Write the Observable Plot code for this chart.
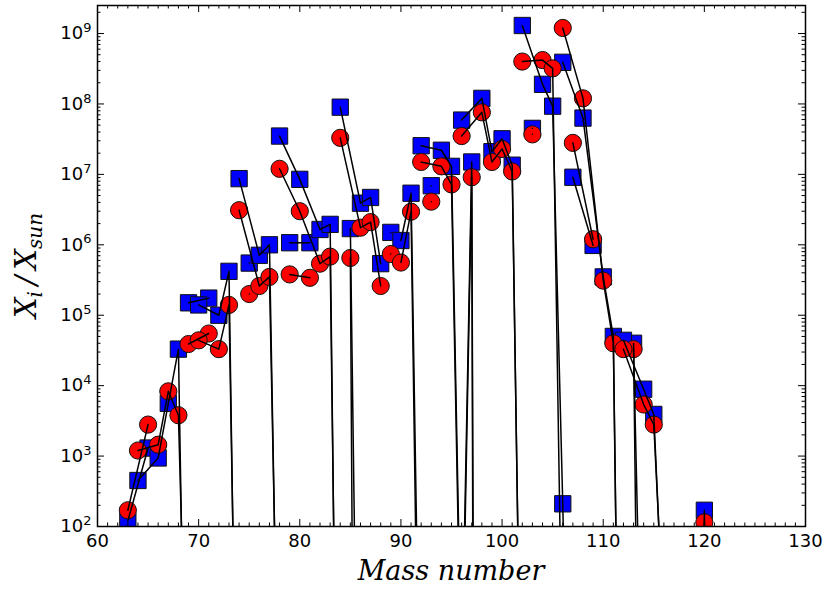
<!DOCTYPE html>
<html>
<head>
<meta charset="utf-8">
<script src="https://cdn.jsdelivr.net/npm/d3@7"></script>
<script src="https://cdn.jsdelivr.net/npm/@observablehq/plot@0.6"></script>
<style>
  html, body { margin: 0; padding: 0; background: #fff; }
  #chart svg { display: block; }
</style>
</head>
<body>
<div id="chart"></div>
<script>
// Isotopes grouped by element (each element is one connected line)
const element = [
  "Cu","Cu",
  "Zn","Zn","Zn","Zn","Zn",
  "Ga","Ga",
  "Ge","Ge","Ge","Ge","Ge",
  "As",
  "Se","Se","Se","Se","Se","Se",
  "Br","Br",
  "Kr","Kr","Kr","Kr","Kr","Kr",
  "Rb","Rb",
  "Sr","Sr","Sr","Sr",
  "Y",
  "Zr","Zr","Zr","Zr","Zr",
  "Nb",
  "Mo","Mo","Mo","Mo","Mo","Mo","Mo",
  "Ru","Ru","Ru","Ru","Ru","Ru","Ru",
  "Rh",
  "Pd","Pd","Pd","Pd","Pd","Pd",
  "Ag","Ag",
  "Cd","Cd","Cd","Cd","Cd","Cd","Cd","Cd",
  "In","In",
  "Sn","Sn","Sn","Sn","Sn","Sn","Sn","Sn","Sn","Sn"
];
const massNumber = [
  63,65,
  64,66,67,68,70,
  69,71,
  70,72,73,74,76,
  75,
  74,76,77,78,80,82,
  79,81,
  78,80,82,83,84,86,
  85,87,
  84,86,87,88,
  89,
  90,91,92,94,96,
  93,
  92,94,95,96,97,98,100,
  96,98,99,100,101,102,104,
  103,
  102,104,105,106,108,110,
  107,109,
  106,108,110,111,112,113,114,116,
  113,115,
  112,114,115,116,117,118,119,120,122,124
];
// X_i / X_sun, blue squares
const blueRatio = [
  1.2e2, 1.3e3,
  4.5e2, 9.4e2, 5.6e3, 3.3e4, 5e-13,
  1.5e5, 1.75e5,
  1.4e5, 1.0e5, 4.2e5, 1.3e-4, 1e-6,
  5.5e5,
  8.7e6, 7.1e5, 1.0e6, 1e-2, 1e-4, 1e-4,
  1.07e6, 1.07e6,
  3.5e7, 8.5e6, 1.65e6, 1.95e6, 1e-6, 1e-8,
  1.7e6, 1e-15,
  9.0e7, 3.9e6, 4.7e6, 5.4e5,
  1.5e6,
  1.15e6, 5.4e6, 1e-2, 1e-4, 1e-4,
  6.9e6,
  2.55e7, 2.2e7, 1.3e7, 0.65, 1.5e7, 1e-45, 1e-45,
  5.9e7, 1.2e8, 2.1e7, 3.2e7, 1.35e7, 6e-3, 1e-4,
  4.5e7,
  1.3e9, 1.9e8, 9.3e7, 2.1e2, 1e-11, 1e-11,
  9.1e6, 9.8e5,
  3.9e8, 6.3e7, 3.5e5, 5.0e4, 8e-7, 1e-8, 1e-8, 1e-8,
  4.0e4, 1e-20,
  4.4e4, 8.9e3, 3.9e3, 2.5, 1e-20, 1e-20, 1e-20, 1.7e2, 1e-20, 1e-20
];
// X_i / X_sun, red circles
const redRatio = [
  1.7e2, 2.8e3,
  1.2e3, 1.45e3, 8.3e3, 3.8e3, 1.3e-7,
  3.9e4, 5.5e4,
  4.4e4, 3.3e4, 1.4e5, 8e-4, 1e-6,
  2.0e5,
  3.1e6, 2.6e5, 3.5e5, 2.8e-2, 1e-4, 1e-4,
  3.8e5, 3.4e5,
  1.2e7, 3.0e6, 5.4e5, 6.8e5, 8e-6, 1e-8,
  6.5e5, 1e-40,
  3.3e7, 1.75e6, 2.1e6, 2.6e5,
  7.4e5,
  5.6e5, 2.95e6, 3e-4, 1e-6, 1e-6,
  4.1e6,
  1.5e7, 1.3e7, 7.2e6, 0.25, 9.1e6, 1e-30, 1e-30,
  3.5e7, 7.6e7, 1.5e7, 2.3e7, 1.1e7, 8e-3, 1e-4,
  3.7e7,
  4.0e8, 4.2e8, 3.2e8, 0.3, 1e-10, 1e-10,
  2.8e7, 1.2e6,
  1.2e9, 1.2e8, 3.1e5, 4.0e4, 1.6e-6, 1e-8, 1e-8, 1e-8,
  3.3e4, 1e-8,
  3.3e4, 5.4e3, 2.8e3, 3.5, 1e-20, 1e-20, 1e-20, 1.15e2, 1e-20, 1e-20
];
const xTicks = [60, 70, 80, 90, 100, 110, 120, 130];
const yTicks = [1e2, 1e3, 1e4, 1e5, 1e6, 1e7, 1e8, 1e9];

const rows = massNumber.map((a, i) => ({el: element[i], A: a, blue: blueRatio[i], red: redRatio[i]}));

const W = 826, H = 589, mL = 97, mR = 21, mT = 5, mB = 63;
const pw = W - mL - mR, ph = H - mT - mB;
const majorLen = 7, minorLen = 3.5;
const xMinor = d3.range(60, 131, 1).filter(v => v % 10 !== 0);
const yMinor = [];
for (let e = 2; e <= 9; e++) for (let k = 2; k <= 9; k++) { const v = k * 10 ** e; if (v <= 2.5e9) yMinor.push(v); }

const chart = Plot.plot({
  width: W, height: H,
  marginLeft: mL, marginRight: mR, marginTop: mT, marginBottom: mB,
  style: {fontFamily: "DejaVu Sans", fontSize: "18px", color: "black", background: "white", overflow: "visible"},
  x: {domain: [60, 130]},
  y: {type: "log", domain: [1e2, 2.5e9]},
  marks: [
    Plot.dot(rows, {x: "A", y: "blue", symbol: "square", r: 9.2, fill: "#0000ff", stroke: "#111", strokeWidth: 1, clip: true}),
    Plot.dot(rows, {x: "A", y: "red", symbol: "circle", r: 8.6, fill: "#ff0000", stroke: "#111", strokeWidth: 1, clip: true}),
    Plot.line(rows, {x: "A", y: "blue", z: "el", stroke: "black", strokeWidth: 1.5, clip: true}),
    Plot.line(rows, {x: "A", y: "red", z: "el", stroke: "black", strokeWidth: 1.5, clip: true}),
    // inward ticks on all four sides
    Plot.tickY(yTicks, {y: d => d, insetRight: pw - majorLen, stroke: "black", strokeWidth: 1}),
    Plot.tickY(yTicks, {y: d => d, insetLeft: pw - majorLen, stroke: "black", strokeWidth: 1}),
    Plot.tickY(yMinor, {y: d => d, insetRight: pw - minorLen, stroke: "black", strokeWidth: 1}),
    Plot.tickY(yMinor, {y: d => d, insetLeft: pw - minorLen, stroke: "black", strokeWidth: 1}),
    Plot.tickX(xTicks, {x: d => d, insetTop: ph - majorLen, stroke: "black", strokeWidth: 1}),
    Plot.tickX(xTicks, {x: d => d, insetBottom: ph - majorLen, stroke: "black", strokeWidth: 1}),
    Plot.tickX(xMinor, {x: d => d, insetTop: ph - minorLen, stroke: "black", strokeWidth: 1}),
    Plot.tickX(xMinor, {x: d => d, insetBottom: ph - minorLen, stroke: "black", strokeWidth: 1}),
    Plot.axisX({ticks: xTicks, tickSize: 0, tickPadding: 8, label: null, fontSize: 18}),
    Plot.axisY({ticks: yTicks, tickSize: 0, tickPadding: 6, label: null, fontSize: 18,
      tickFormat: d => "10^" + Math.round(Math.log10(d))}),
    Plot.frame({stroke: "black", strokeWidth: 1.5})
  ]
});
document.getElementById("chart").appendChild(chart);

const svg = d3.select(chart);
// superscript exponents for the y tick labels
svg.selectAll('g[aria-label="y-axis tick label"] text').each(function () {
  const t = this.textContent;
  const parts = t.split("^");
  if (parts.length === 2) {
    const sel = d3.select(this);
    sel.text(parts[0]);
    sel.append("tspan").attr("dy", "-0.55em").attr("font-size", "0.72em").text(parts[1]);
  }
});

// axis titles
svg.append("text")
  .attr("x", mL + pw / 2).attr("y", 580)
  .attr("text-anchor", "middle")
  .attr("font-family", "DejaVu Serif").attr("font-style", "italic").attr("font-size", 27)
  .attr("fill", "black")
  .text("Mass number");

const yt = svg.append("text")
  .attr("transform", `translate(36,${mT + ph / 2}) rotate(-90)`)
  .attr("text-anchor", "middle")
  .attr("font-family", "DejaVu Serif").attr("font-style", "italic").attr("font-size", 29)
  .attr("fill", "black");
yt.append("tspan").text("X");
yt.append("tspan").attr("font-size", 20).attr("dy", 6).text("i");
yt.append("tspan").attr("dy", -6).text("\u2009/\u2009X");
yt.append("tspan").attr("font-size", 20).attr("dy", 6).text("sun");
</script>
</body>
</html>
